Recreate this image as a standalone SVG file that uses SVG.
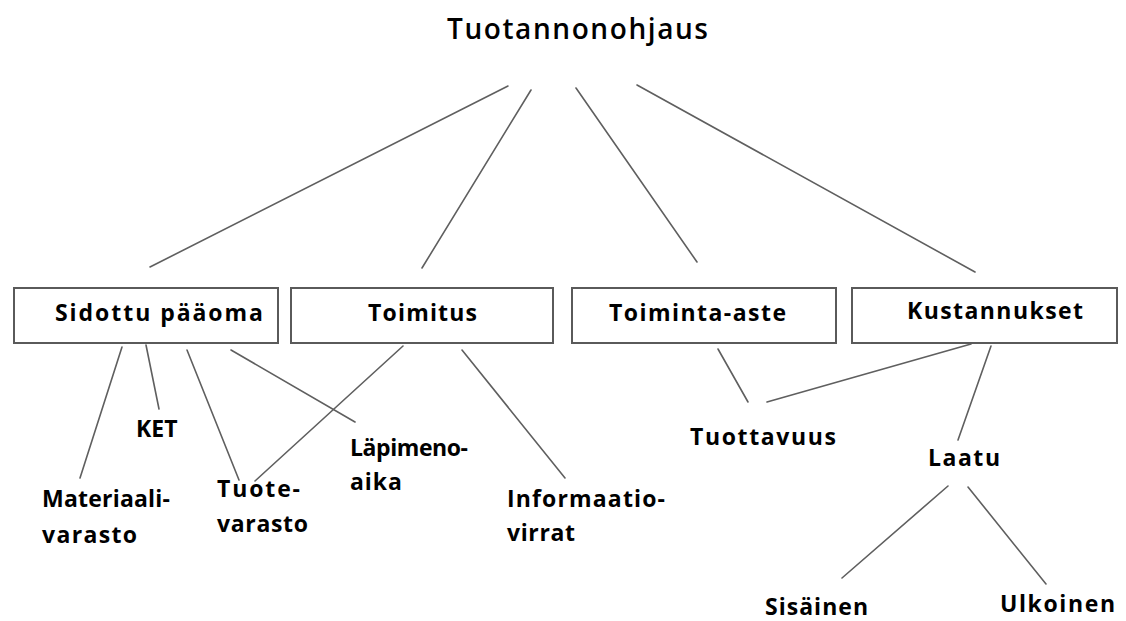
<svg xmlns="http://www.w3.org/2000/svg" width="1126" height="621" viewBox="0 0 1126 621">
  <style>
    .bg { fill: #ffffff; }
    .box { fill: #ffffff; stroke: #5a5a5a; stroke-width: 2; }
    .lbl { font-family: "Open Sans", "DejaVu Sans", sans-serif; font-weight: 700; font-size: 23px; fill: #000000; }
    .title { font-family: "Open Sans", "DejaVu Sans", sans-serif; font-weight: 600; font-size: 28px; fill: #000000; }
    .edge { stroke: #5f5f5f; stroke-width: 1.6; fill: none; stroke-linecap: round; }
  </style>
  <rect class="bg" x="0" y="0" width="1126" height="621"/>

  <!-- connectors -->
  <g id="connectors">
    <!-- root to first level -->
    <line class="edge" x1="508" y1="86" x2="150" y2="267"/>
    <line class="edge" x1="531" y1="90" x2="422" y2="268"/>
    <line class="edge" x1="576" y1="88" x2="697" y2="262"/>
    <line class="edge" x1="637" y1="85" x2="975" y2="272"/>
    <!-- Sidottu pääoma -->
    <line class="edge" x1="122" y1="347" x2="80" y2="478"/>
    <line class="edge" x1="146" y1="345" x2="159" y2="409"/>
    <line class="edge" x1="187" y1="350" x2="239" y2="480"/>
    <line class="edge" x1="231" y1="350" x2="355" y2="422"/>
    <!-- Toimitus -->
    <line class="edge" x1="403" y1="346" x2="255" y2="481"/>
    <line class="edge" x1="462" y1="350" x2="565" y2="478"/>
    <!-- Toiminta-aste / Kustannukset -->
    <line class="edge" x1="718" y1="349" x2="748" y2="402"/>
    <line class="edge" x1="971" y1="344" x2="767" y2="402"/>
    <line class="edge" x1="991" y1="346" x2="958" y2="440"/>
    <!-- Laatu -->
    <line class="edge" x1="948" y1="486" x2="842" y2="578"/>
    <line class="edge" x1="968" y1="487" x2="1046" y2="584"/>
  </g>

  <g id="root">
    <text class="title" x="447" y="39" textLength="261" lengthAdjust="spacing">Tuotannonohjaus</text>
  </g>

  <g id="sidottu">
    <rect class="box" x="14" y="288" width="264" height="55"/>
    <text class="lbl" x="55" y="321" textLength="208" lengthAdjust="spacing">Sidottu pääoma</text>
  </g>
  <g id="toimitus">
    <rect class="box" x="291" y="288" width="262" height="55"/>
    <text class="lbl" x="368" y="321" textLength="109" lengthAdjust="spacing">Toimitus</text>
  </g>
  <g id="toiminta">
    <rect class="box" x="572" y="288" width="264" height="55"/>
    <text class="lbl" x="609" y="321" textLength="177" lengthAdjust="spacing">Toiminta-aste</text>
  </g>
  <g id="kustannukset">
    <rect class="box" x="852" y="288" width="265" height="55"/>
    <text class="lbl" x="907" y="319" textLength="176" lengthAdjust="spacing">Kustannukset</text>
  </g>

  <g id="ket">
    <text class="lbl" x="136" y="437">KET</text>
  </g>
  <g id="materiaalivarasto">
    <text class="lbl" x="42" y="507" textLength="128" lengthAdjust="spacing">Materiaali-</text>
    <text class="lbl" x="42" y="543" textLength="95" lengthAdjust="spacing">varasto</text>
  </g>
  <g id="tuotevarasto">
    <text class="lbl" x="217" y="497" textLength="83" lengthAdjust="spacing">Tuote-</text>
    <text class="lbl" x="217" y="532" textLength="91" lengthAdjust="spacing">varasto</text>
  </g>
  <g id="lapimenoaika">
    <text class="lbl" x="350" y="456" textLength="118" lengthAdjust="spacing">Läpimeno-</text>
    <text class="lbl" x="350" y="490" textLength="52" lengthAdjust="spacing">aika</text>
  </g>
  <g id="informaatiovirrat">
    <text class="lbl" x="507" y="507" textLength="158" lengthAdjust="spacing">Informaatio-</text>
    <text class="lbl" x="507" y="541" textLength="68" lengthAdjust="spacing">virrat</text>
  </g>
  <g id="tuottavuus">
    <text class="lbl" x="690" y="445" textLength="146" lengthAdjust="spacing">Tuottavuus</text>
  </g>
  <g id="laatu">
    <text class="lbl" x="928" y="466" textLength="72" lengthAdjust="spacing">Laatu</text>
  </g>
  <g id="sisainen">
    <text class="lbl" x="765" y="615" textLength="103" lengthAdjust="spacing">Sisäinen</text>
  </g>
  <g id="ulkoinen">
    <text class="lbl" x="1000" y="612" textLength="115" lengthAdjust="spacing">Ulkoinen</text>
  </g>
</svg>
